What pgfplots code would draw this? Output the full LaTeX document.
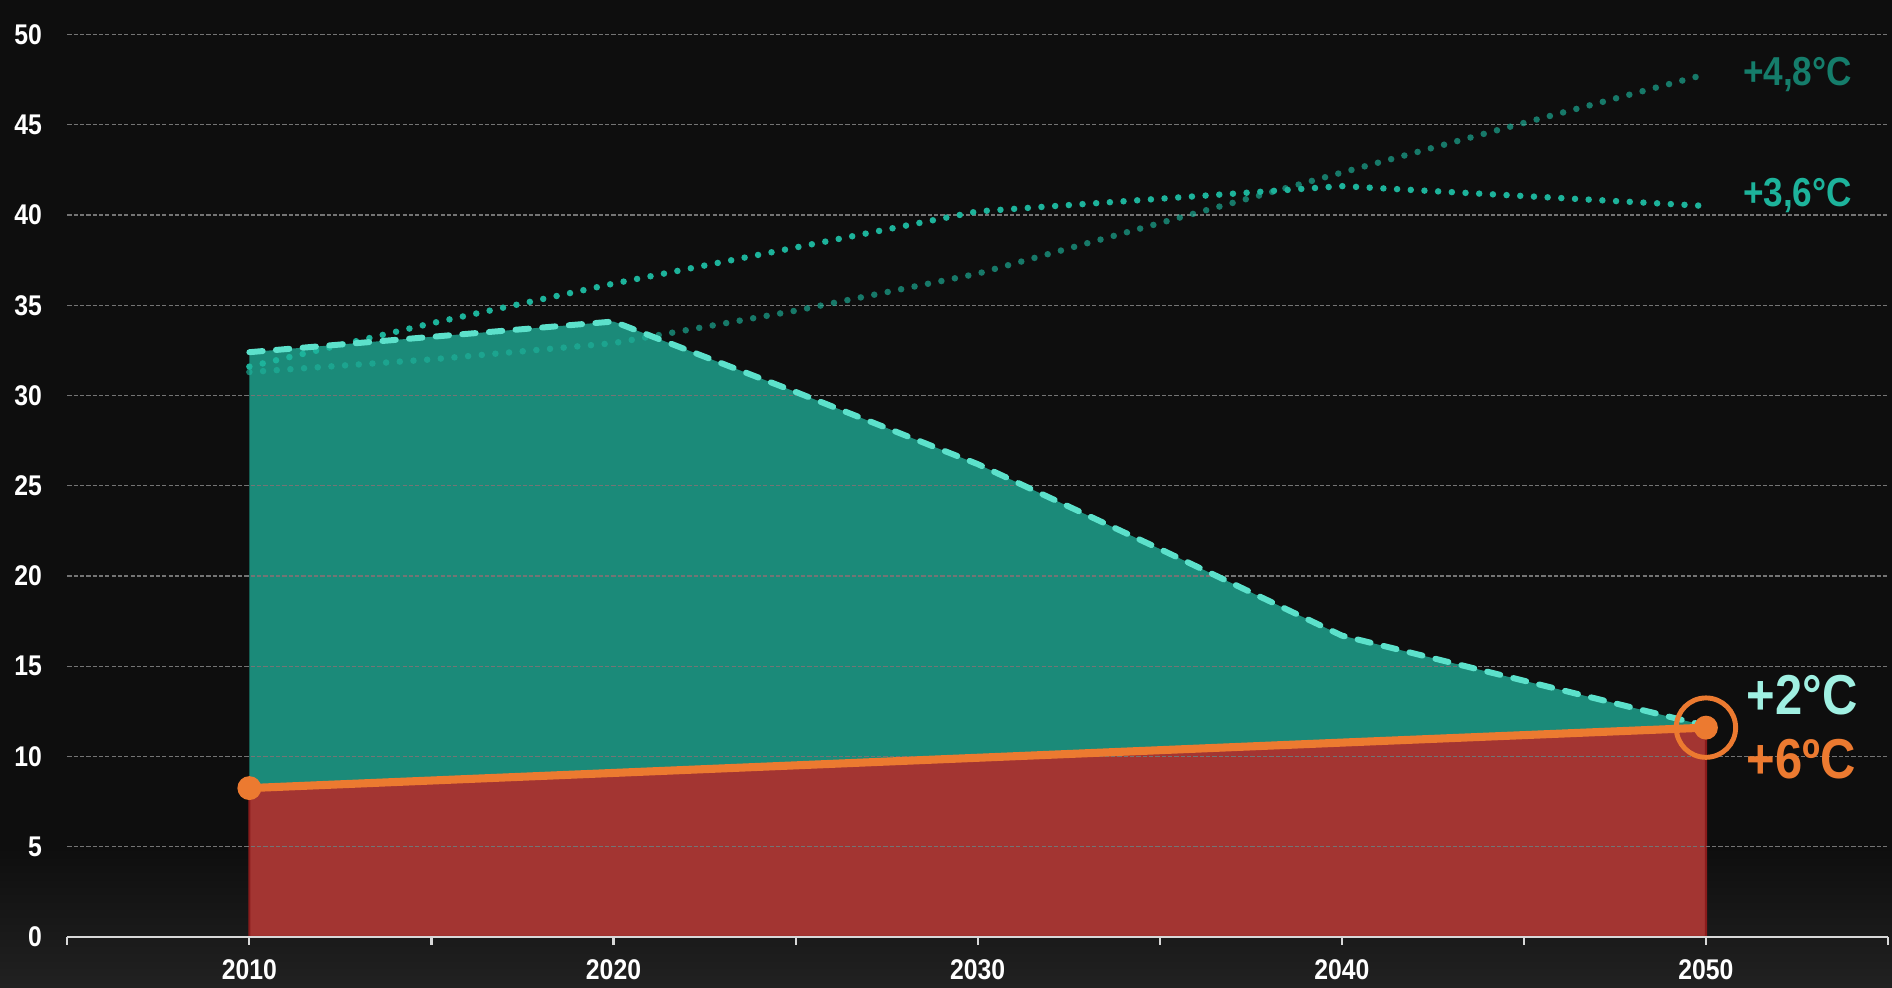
\documentclass[border=0pt]{standalone}
\usepackage{fontspec}
\setmainfont{Liberation Sans}[FakeStretch=0.87]
\usepackage{pgfplots}
\pgfplotsset{compat=1.18}

\definecolor{bg}{HTML}{0E0E0E}
\definecolor{bgbot}{HTML}{212121}
\definecolor{gridc}{HTML}{747474}
\definecolor{axisc}{HTML}{D8D8D8}
\definecolor{greenfill}{HTML}{1B8A79}
\definecolor{dashc}{HTML}{5CE1CB}
\definecolor{dotc}{HTML}{1DB39B}
\definecolor{lbldark}{HTML}{157D6B}
\definecolor{lbllight}{HTML}{A0F0E2}
\definecolor{orangec}{HTML}{EC7A30}
\definecolor{redfill}{HTML}{A33532}
\definecolor{rededge}{HTML}{8A1C1C}

\pgfplotsset{
  geom/.style={
    at={(0.673cm,0.5cm)}, anchor=south west,
    scale only axis, width=18.207cm, height=9.025cm,
    xmin=2005, xmax=2055, ymin=0, ymax=50,
  },
}

\begin{document}
\begin{tikzpicture}
\fill[bg] (0,0) rectangle (18.92,9.87);
\shade[top color=bg, bottom color=bgbot] (0,0) rectangle (18.92,1.4);

% fills first, so the grid of the second axis lies over them
\begin{axis}[geom, hide axis]
  % +2 C pathway
  \addplot[fill=greenfill, draw=none] coordinates {
    (2010,32.4) (2015,33.25) (2020,34.1) (2025,30.2) (2030,26.2)
    (2035,21.5) (2040,16.7) (2045,14.2) (2050,11.7)
  } \closedcycle;
  % +6 C pathway
  \addplot[fill=redfill, draw=rededge, line width=0.6pt] coordinates {
    (2010,8.25) (2020,9.09) (2030,9.93) (2040,10.77) (2050,11.6)
  } \closedcycle;
\end{axis}

\begin{axis}[geom, clip=false,
  axis x line*=bottom, axis y line*=left,
  x axis line style={-, draw=axisc, line width=0.6pt},
  y axis line style={draw=none},
  xtick={2010,2020,2030,2040,2050},
  xticklabels={2010,2020,2030,2040,2050},
  minor xtick={2005,2015,2025,2035,2045,2055},
  ytick={0,5,...,50},
  tick align=outside,
  major tick length=0.077cm, minor tick length=0.077cm,
  xtick style={draw=axisc, line width=0.6pt},
  minor tick style={draw=axisc, line width=0.6pt},
  ytick style={draw=none},
  ymajorgrids,
  grid style={gridc, line width=0.3pt, dash pattern=on 1.2pt off 0.6pt},
  /pgf/number format/assume math mode=true,
  tick label style={font=\bfseries\fontsize{8.1}{9}\selectfont, text=white},
  yticklabel style={anchor=east, inner sep=0pt, xshift=-0.17cm},
  xticklabel style={anchor=north, inner sep=0pt, yshift=-0.145cm},
]
  % +4,8 C
  \addplot[dotc, draw opacity=0.65, line width=1.85pt, line cap=round,
    dash pattern=on 0pt off 3.9pt] coordinates {
    (2010,31.3) (2015,32.0) (2020,32.9) (2025,34.7) (2030,36.75)
    (2035,39.55) (2040,42.35) (2045,45.1) (2050,47.8)
  };
  % +3,6 C
  \addplot[dotc, line width=1.85pt, line cap=round,
    dash pattern=on 0pt off 3.9pt] coordinates {
    (2010,31.6) (2015,34.0) (2020,36.2) (2025,38.2) (2030,40.2)
    (2035,40.9) (2040,41.6) (2045,41.05) (2050,40.5)
  };
  % +2 C
  \addplot[dashc, line width=1.7pt, line cap=round, line join=round,
    dash pattern=on 3.8pt off 3.8pt] coordinates {
    (2010,32.4) (2015,33.25) (2020,34.1) (2025,30.2) (2030,26.2)
    (2035,21.5) (2040,16.7) (2045,14.2) (2050,11.7)
  };
  % +6 C
  \addplot[orangec, line width=2.3pt, line join=round] coordinates {
    (2010,8.25) (2020,9.09) (2030,9.93) (2040,10.77) (2050,11.6)
  };
  \addplot[only marks, mark=*, mark size=3.2pt, orangec] coordinates {
    (2010,8.25) (2050,11.6)
  };
  \addplot[only marks, mark=o, mark size=8.45pt,
    mark options={draw=orangec, line width=1.4pt}] coordinates {(2050,11.6)};

  \node[anchor=base west, inner sep=0pt, text=lbldark,
    font=\bfseries\fontsize{11.5}{12}\selectfont] at (axis cs:2051.0,47.2) {+4,8°C};
  \node[anchor=base west, inner sep=0pt, text=dotc,
    font=\bfseries\fontsize{11.5}{12}\selectfont] at (axis cs:2051.0,40.46) {+3,6°C};
  \node[anchor=base west, inner sep=0pt, text=lbllight,
    font=\bfseries\fontsize{16}{18}\selectfont] at (axis cs:2051.1,12.3) {+2°C};
  \node[anchor=base west, inner sep=0pt, text=orangec,
    font=\bfseries\fontsize{16}{18}\selectfont] at (axis cs:2051.1,8.79) {+6ºC};
\end{axis}

\pgfresetboundingbox
\useasboundingbox (0,0) rectangle (18.92,9.87);
\end{tikzpicture}
\end{document}
